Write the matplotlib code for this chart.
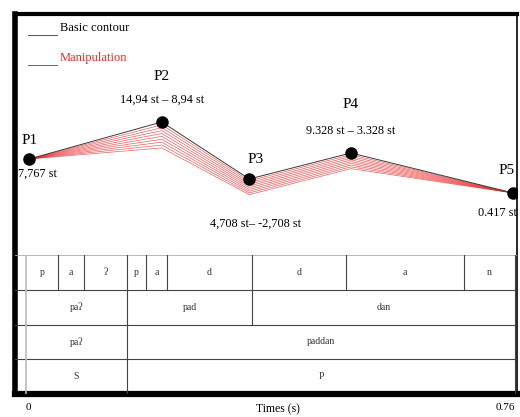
import numpy as np
import matplotlib.pyplot as plt
from matplotlib.lines import Line2D

plt.rcParams['font.family'] = ['Liberation Serif', 'DejaVu Serif']

# contour points (time in s, pitch in st)
pt_names = ['P1', 'P2', 'P3', 'P4', 'P5']
pt_time = [0.005, 0.211, 0.347, 0.505, 0.757]
pt_st = [7.37, 14.94, 3.28, 8.6, 0.417]
pt_drop = [0.0, 5.3, 3.2, 3.2, 0.0]   # size of the lowest manipulation step
n_steps = 9
pt_values = ['7,767 st', '14,94 st \u2013 8,94 st', '4,708 st\u2013 -2,708 st',
             '9.328 st \u2013 3.328 st', '0.417 st']

# segmentation tiers
tier1_edges = [0, 0.050, 0.090, 0.157, 0.187, 0.219, 0.351, 0.497, 0.681, 0.76]
tier1_labels = ['p', 'a', '\u0294', 'p', 'a', 'd', 'd', 'a', 'n']
tier2_edges = [0, 0.157, 0.351, 0.76]
tier2_labels = ['pa\u0294', 'pad', 'dan']
tier3_edges = [0, 0.157, 0.76]
tier3_labels = ['pa\u0294', 'paddan']
tier4_edges = [0, 0.157, 0.76]
tier4_labels = ['S', 'P']

W, H = 520, 417
fig = plt.figure(figsize=(W / 100, H / 100), dpi=100)


def box(x0, y0, x1, y1):
    return [x0 / W, 1 - y1 / H, (x1 - x0) / W, (y1 - y0) / H]


xlim = (-11 / 643.4, 0.76 + 2 / 643.4)

frame = fig.add_axes(box(15, 14, 517, 394))
frame.set_xlim(xlim)
frame.set_xticks([])
frame.set_yticks([])
for side, lw in [('top', 3), ('left', 4), ('bottom', 4.5), ('right', 1.2)]:
    frame.spines[side].set_linewidth(lw)

# contour panel
ax = fig.add_axes(box(15, 14, 517, 255), facecolor='none')
ax.set_xlim(xlim)
ax.set_ylim(0.417 - 62 / 4.89, 0.417 + 179 / 4.89)
ax.axis('off')

base = np.array(pt_st)
drop = np.array(pt_drop)
for i in range(1, n_steps + 1):
    ax.plot(pt_time, base - drop * i / n_steps, color='#e8282a', lw=0.5, alpha=0.75)
ax.plot(pt_time, base, color='#3a3a3a', lw=0.7)
ax.plot(pt_time, base, 'o', color='black', ms=8)

name_off = [(0, 18), (0, 45), (6, 19), (0, 48), (-6, 23)]
val_off = [(8, -15), (0, 22), (6, -45), (0, 22), (-16, -20)]
for k in range(5):
    ax.annotate(pt_names[k], (pt_time[k], pt_st[k]), xytext=name_off[k],
                textcoords='offset pixels', ha='center', va='center', fontsize=11)
    ax.annotate(pt_values[k], (pt_time[k], pt_st[k]), xytext=val_off[k],
                textcoords='offset pixels', ha='center', va='center', fontsize=8.8)

# legend
fig.add_artist(Line2D([28 / W, 57 / W], [1 - 35 / H] * 2, color='#555555', lw=0.7))
fig.text(60 / W, 1 - 28 / H, 'Basic contour', fontsize=9, va='center')
fig.add_artist(Line2D([28 / W, 57 / W], [1 - 65 / H] * 2, color='#e8282a', lw=0.7))
fig.text(60 / W, 1 - 58 / H, 'Manipulation', fontsize=9, va='center', color='#e8282a')

# tiers
tb = fig.add_axes(box(15, 255, 517, 394), facecolor='none')
tb.set_xlim(xlim)
tb.set_ylim(0, 4)
tb.axis('off')
tb.axhline(4, color='#aaaaaa', lw=1.2)
for y in [3, 2, 1]:
    tb.axhline(y, color='#444444', lw=0.8)
tb.plot([0, 0], [0, 4], color='#bbbbbb', lw=1.2)

tiers = [(tier1_edges, tier1_labels), (tier2_edges, tier2_labels),
         (tier3_edges, tier3_labels), (tier4_edges, tier4_labels)]
for r, (edges, labels) in enumerate(tiers):
    top, bot = 4 - r, 3 - r
    for e in edges[1:]:
        tb.plot([e, e], [bot, top], color='#444444', lw=0.8)
    for j, lab in enumerate(labels):
        tb.text((edges[j] + edges[j + 1]) / 2, bot + 0.5, lab, ha='center',
                va='center', fontsize=7, color='#333333')

fig.text(28 / W, 1 - 408 / H, '0', fontsize=8, ha='center', va='center')
fig.text(278 / W, 1 - 409 / H, 'Times (s)', fontsize=8.5, ha='center', va='center')
fig.text(505 / W, 1 - 408 / H, '0.76', fontsize=8, ha='center', va='center')

fig.savefig('out.png', dpi=100)
